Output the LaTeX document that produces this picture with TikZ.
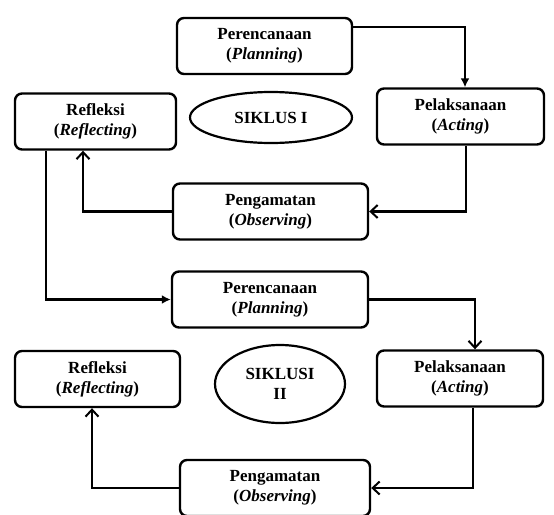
\documentclass[tikz,border=0pt]{standalone}
\usepackage{fontspec}
\setmainfont{Liberation Serif}
\usetikzlibrary{shapes.geometric,arrows.meta}
\begin{document}
\begin{tikzpicture}
[x=1pt,y=-1pt,
  boxdecorate/.style={shape=rectangle,rounded corners=7pt,draw,line width=2.4pt,
    minimum height=56pt,inner sep=2pt,align=center,
    font=\fontsize{17}{20}\selectfont\bfseries},%
  ellipsedecorate/.style={shape=ellipse,draw,line width=2.2pt,inner sep=0pt,align=center,
    font=\fontsize{17}{20}\selectfont\bfseries},%
  linedecorate/.style={line width=2.2pt},%
  openhead/.style={-{Straight Barb[length=7pt,width=13pt,line width=2pt]}},%
  fillhead/.style={-{Latex[length=9pt,width=9pt]}}]
\useasboundingbox (0,0) rectangle (554,514);
\fill[white] (0,0) rectangle (554,514);
%% nodes or vertices
\foreach \nodename/\x/\y/\w/\txt in {
  plan1/264.5/46/175/{Perencanaan\\(\textit{Planning})},
  act1/460.5/116.5/167/{Pelaksanaan\\(\textit{Acting})},
  refl1/95.5/121.5/161/{Refleksi\\(\textit{Reflecting})},
  obs1/270.5/211.5/195/{Pengamatan\\(\textit{Observing})},
  plan2/270/299.5/196/{Perencanaan\\(\textit{Planning})},
  act2/460/378.5/166/{Pelaksanaan\\(\textit{Acting})},
  refl2/97.5/379/165/{Refleksi\\(\textit{Reflecting})},
  obs2/275/488/190/{Pengamatan\\(\textit{Observing})}} {
  \node (\nodename) at (\x,\y) [boxdecorate,minimum width=\w pt] {\txt};
}
\node (cycle1) at (271,117.5) [ellipsedecorate,minimum width=162pt,minimum height=51pt] {SIKLUS I};
\node (cycle2) at (280,384) [ellipsedecorate,minimum width=130pt,minimum height=78pt] {SIKLUSI\\II};
%% edges or lines
\draw[linedecorate,fillhead] ([yshift=19pt]plan1.east) -| ([xshift=4.5pt]act1.north);
\draw[linedecorate,openhead] ([xshift=5.5pt]act1.south) |- (obs1.east);
\draw[linedecorate,openhead] (obs1.west) -| ([xshift=-12.5pt]refl1.south);
\draw[linedecorate,fillhead] ([xshift=-49.5pt]refl1.south) |- (plan2.west);
\draw[linedecorate,openhead] (plan2.east) -| ([xshift=15pt]act2.north);
\draw[linedecorate,openhead] ([xshift=13pt]act2.south) |- (obs2.east);
\draw[linedecorate,openhead] (obs2.west) -| ([xshift=-5.5pt]refl2.south);
\end{tikzpicture}
\end{document}
